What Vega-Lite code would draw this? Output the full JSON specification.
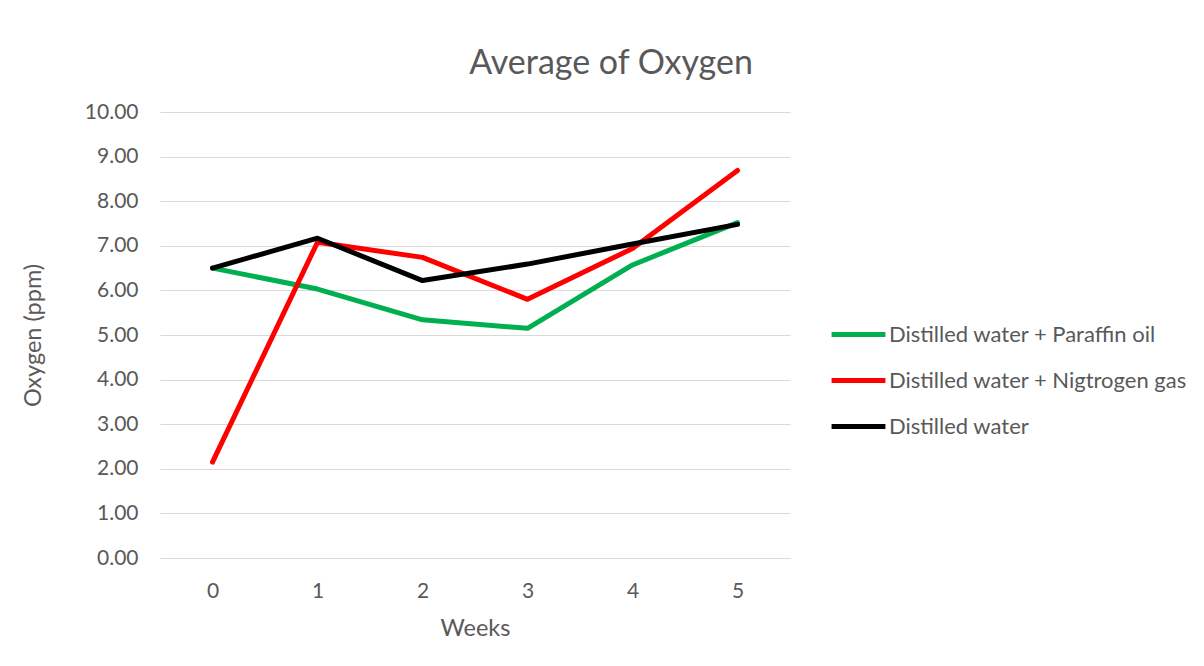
{
  "$schema": "https://vega.github.io/schema/vega-lite/v6.json",
  "autosize": "none",
  "width": 630,
  "height": 446,
  "padding": {"left": 160, "top": 112, "right": 414, "bottom": 108},
  "background": "white",
  "config": {
    "font": "Lato",
    "view": {"stroke": null}
  },
  "title": {
    "text": "Average of Oxygen",
    "font": "Lato",
    "fontSize": 34,
    "fontWeight": "normal",
    "color": "#595959",
    "anchor": "middle",
    "frame": "group",
    "dx": 136,
    "dy": -16
  },
  "data": {
    "values": [
      {"week": "0", "series": "Distilled water + Paraffin oil", "oxygen": 6.50},
      {"week": "1", "series": "Distilled water + Paraffin oil", "oxygen": 6.03},
      {"week": "2", "series": "Distilled water + Paraffin oil", "oxygen": 5.34},
      {"week": "3", "series": "Distilled water + Paraffin oil", "oxygen": 5.15},
      {"week": "4", "series": "Distilled water + Paraffin oil", "oxygen": 6.57},
      {"week": "5", "series": "Distilled water + Paraffin oil", "oxygen": 7.52},
      {"week": "0", "series": "Distilled water + Nigtrogen gas", "oxygen": 2.15},
      {"week": "1", "series": "Distilled water + Nigtrogen gas", "oxygen": 7.08},
      {"week": "2", "series": "Distilled water + Nigtrogen gas", "oxygen": 6.74},
      {"week": "3", "series": "Distilled water + Nigtrogen gas", "oxygen": 5.80},
      {"week": "4", "series": "Distilled water + Nigtrogen gas", "oxygen": 6.94},
      {"week": "5", "series": "Distilled water + Nigtrogen gas", "oxygen": 8.69},
      {"week": "0", "series": "Distilled water", "oxygen": 6.50},
      {"week": "1", "series": "Distilled water", "oxygen": 7.17},
      {"week": "2", "series": "Distilled water", "oxygen": 6.22},
      {"week": "3", "series": "Distilled water", "oxygen": 6.59},
      {"week": "4", "series": "Distilled water", "oxygen": 7.04},
      {"week": "5", "series": "Distilled water", "oxygen": 7.48}
    ]
  },
  "mark": {"type": "line", "strokeWidth": 5, "strokeCap": "round", "strokeJoin": "round"},
  "encoding": {
    "x": {
      "field": "week",
      "type": "ordinal",
      "scale": {"type": "point", "padding": 0.5},
      "axis": {
        "title": "Weeks",
        "labelAngle": 0,
        "labelFontSize": 21,
        "labelColor": "#595959",
        "labelPadding": 22,
        "ticks": false,
        "domain": true,
        "domainColor": "#d9d9d9",
        "domainWidth": 1,
        "grid": false,
        "titleFontSize": 23.5,
        "titleFontWeight": "normal",
        "titleColor": "#595959",
        "titleX": 315,
        "titleY": 70,
        "titleBaseline": "middle",
        "titleAlign": "center"
      }
    },
    "y": {
      "field": "oxygen",
      "type": "quantitative",
      "scale": {"domain": [0, 10], "nice": false},
      "axis": {
        "title": "Oxygen (ppm)",
        "values": [0, 1, 2, 3, 4, 5, 6, 7, 8, 9, 10],
        "format": ".2f",
        "labelFontSize": 21,
        "labelColor": "#595959",
        "labelPadding": 22,
        "ticks": false,
        "domain": false,
        "grid": true,
        "gridColor": "#d9d9d9",
        "gridWidth": 1,
        "titleFontSize": 23.5,
        "titleFontWeight": "normal",
        "titleColor": "#595959",
        "titleAngle": -90,
        "titleX": -127,
        "titleY": 223,
        "titleBaseline": "middle",
        "titleAlign": "center"
      }
    },
    "color": {
      "field": "series",
      "type": "nominal",
      "scale": {
        "domain": ["Distilled water + Paraffin oil", "Distilled water + Nigtrogen gas", "Distilled water"],
        "range": ["#00b050", "#ff0000", "#000000"]
      },
      "legend": {
        "title": null,
        "orient": "none",
        "legendX": 669,
        "legendY": 193,
        "symbolType": "stroke",
        "symbolSize": 2900,
        "symbolStrokeWidth": 5,
        "labelFontSize": 22,
        "labelColor": "#595959",
        "labelOffset": 1,
        "labelLimit": 0,
        "rowPadding": 5
      }
    }
  }
}
